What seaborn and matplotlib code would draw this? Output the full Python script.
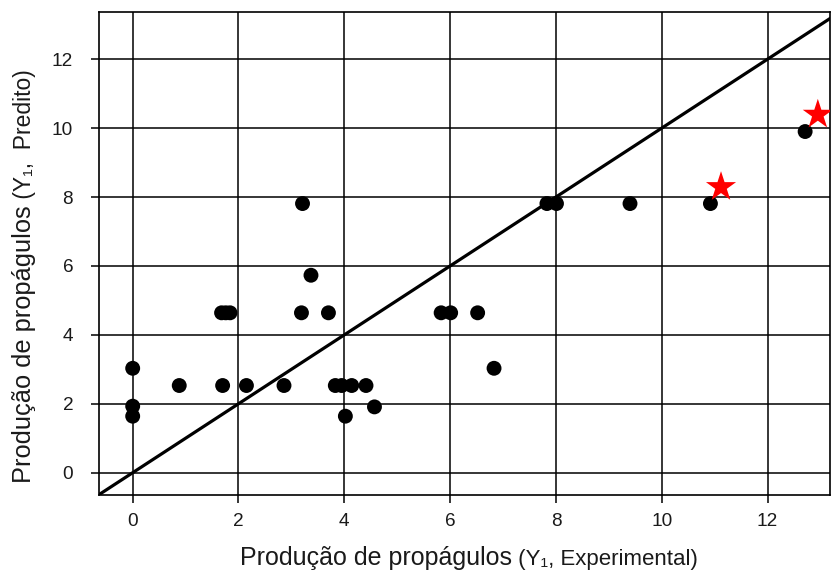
import numpy as np
import pandas as pd
import matplotlib
matplotlib.use("Agg")
import matplotlib.pyplot as plt
import seaborn as sns

# Observed (experimental) vs predicted propagule production
experimental = [0.00, 0.00, 0.00, 0.88, 1.70, 2.15, 2.86, 3.83, 3.95, 4.14, 4.41,
                4.02, 4.57, 1.68, 1.76, 1.84, 3.19, 3.70, 3.37, 3.21,
                5.83, 6.01, 6.52, 6.83, 7.83, 8.01, 9.40, 10.92, 12.71]
predicted = [3.03, 1.93, 1.64, 2.53, 2.53, 2.53, 2.53, 2.53, 2.53, 2.53, 2.53,
             1.64, 1.91, 4.64, 4.64, 4.64, 4.64, 4.64, 5.73, 7.81,
             4.64, 4.64, 4.64, 3.03, 7.81, 7.81, 7.81, 7.81, 9.90]

# Validation points highlighted as stars
star_experimental = [11.12, 12.95]
star_predicted = [8.29, 10.39]

# 1:1 reference line
line_x = [-1.0, 14.0]
line_y = [-1.0, 14.0]

x_ticks = [0, 2, 4, 6, 8, 10, 12]
y_ticks = [0, 2, 4, 6, 8, 10, 12]

sns.set_theme(style="white")
plt.rcParams["font.family"] = ["Liberation Sans", "DejaVu Sans"]

W, H = 831, 571
fig = plt.figure(figsize=(W / 100, H / 100), dpi=100)
ax = fig.add_axes([99.3 / W, 1 - 495 / H, (830 - 99.3) / W, (495 - 12.3) / H])

df = pd.DataFrame({"exp": experimental, "pred": predicted})
df_star = pd.DataFrame({"exp": star_experimental, "pred": star_predicted})

sns.lineplot(x=line_x, y=line_y, ax=ax, color="black", linewidth=2.3, zorder=3)
sns.scatterplot(data=df, x="exp", y="pred", ax=ax, color="black", s=115,
                edgecolor="none", zorder=4)
sns.scatterplot(data=df_star, x="exp", y="pred", ax=ax, color="red", marker="*",
                s=520, edgecolor="none", zorder=5)

ax.set_xlim(-0.631, 13.18)
ax.set_ylim(-0.647, 13.36)
ax.set_xticks(x_ticks)
ax.set_yticks(y_ticks)
ax.grid(True, color="black", linewidth=1.1, zorder=1)
ax.set_axisbelow(True)

for side in ["left", "top", "bottom", "right"]:
    ax.spines[side].set_visible(True)
    ax.spines[side].set_color("black")
    ax.spines[side].set_linewidth(1.2)

ax.tick_params(axis="both", which="major", direction="out", length=5.8,
               width=1.1, color="black", labelsize=13.7, labelcolor="#1a1a1a",
               bottom=True, left=True)
ax.tick_params(axis="x", pad=6.8)
ax.tick_params(axis="y", pad=13.0)

ax.set_xlabel("")
ax.set_ylabel("")

# Axis titles with a smaller parenthetical part
txt_color = "#1a1a1a"
fig.text(512 / W, 1 - 565 / H, "Produção de propágulos", fontsize=18,
         ha="right", va="baseline", color=txt_color)
fig.text(512 / W, 1 - 565 / H, " (Y₁, Experimental)", fontsize=16,
         ha="left", va="baseline", color=txt_color)

fig.text(31 / W, 1 - 205 / H, "Produção de propágulos", fontsize=18.3,
         rotation=90, rotation_mode="anchor", ha="right", va="baseline",
         color=txt_color)
fig.text(31 / W, 1 - 205 / H, " (Y₁,  Predito)", fontsize=16.5,
         rotation=90, rotation_mode="anchor", ha="left", va="baseline",
         color=txt_color)

fig.savefig("out.png", dpi=100)
